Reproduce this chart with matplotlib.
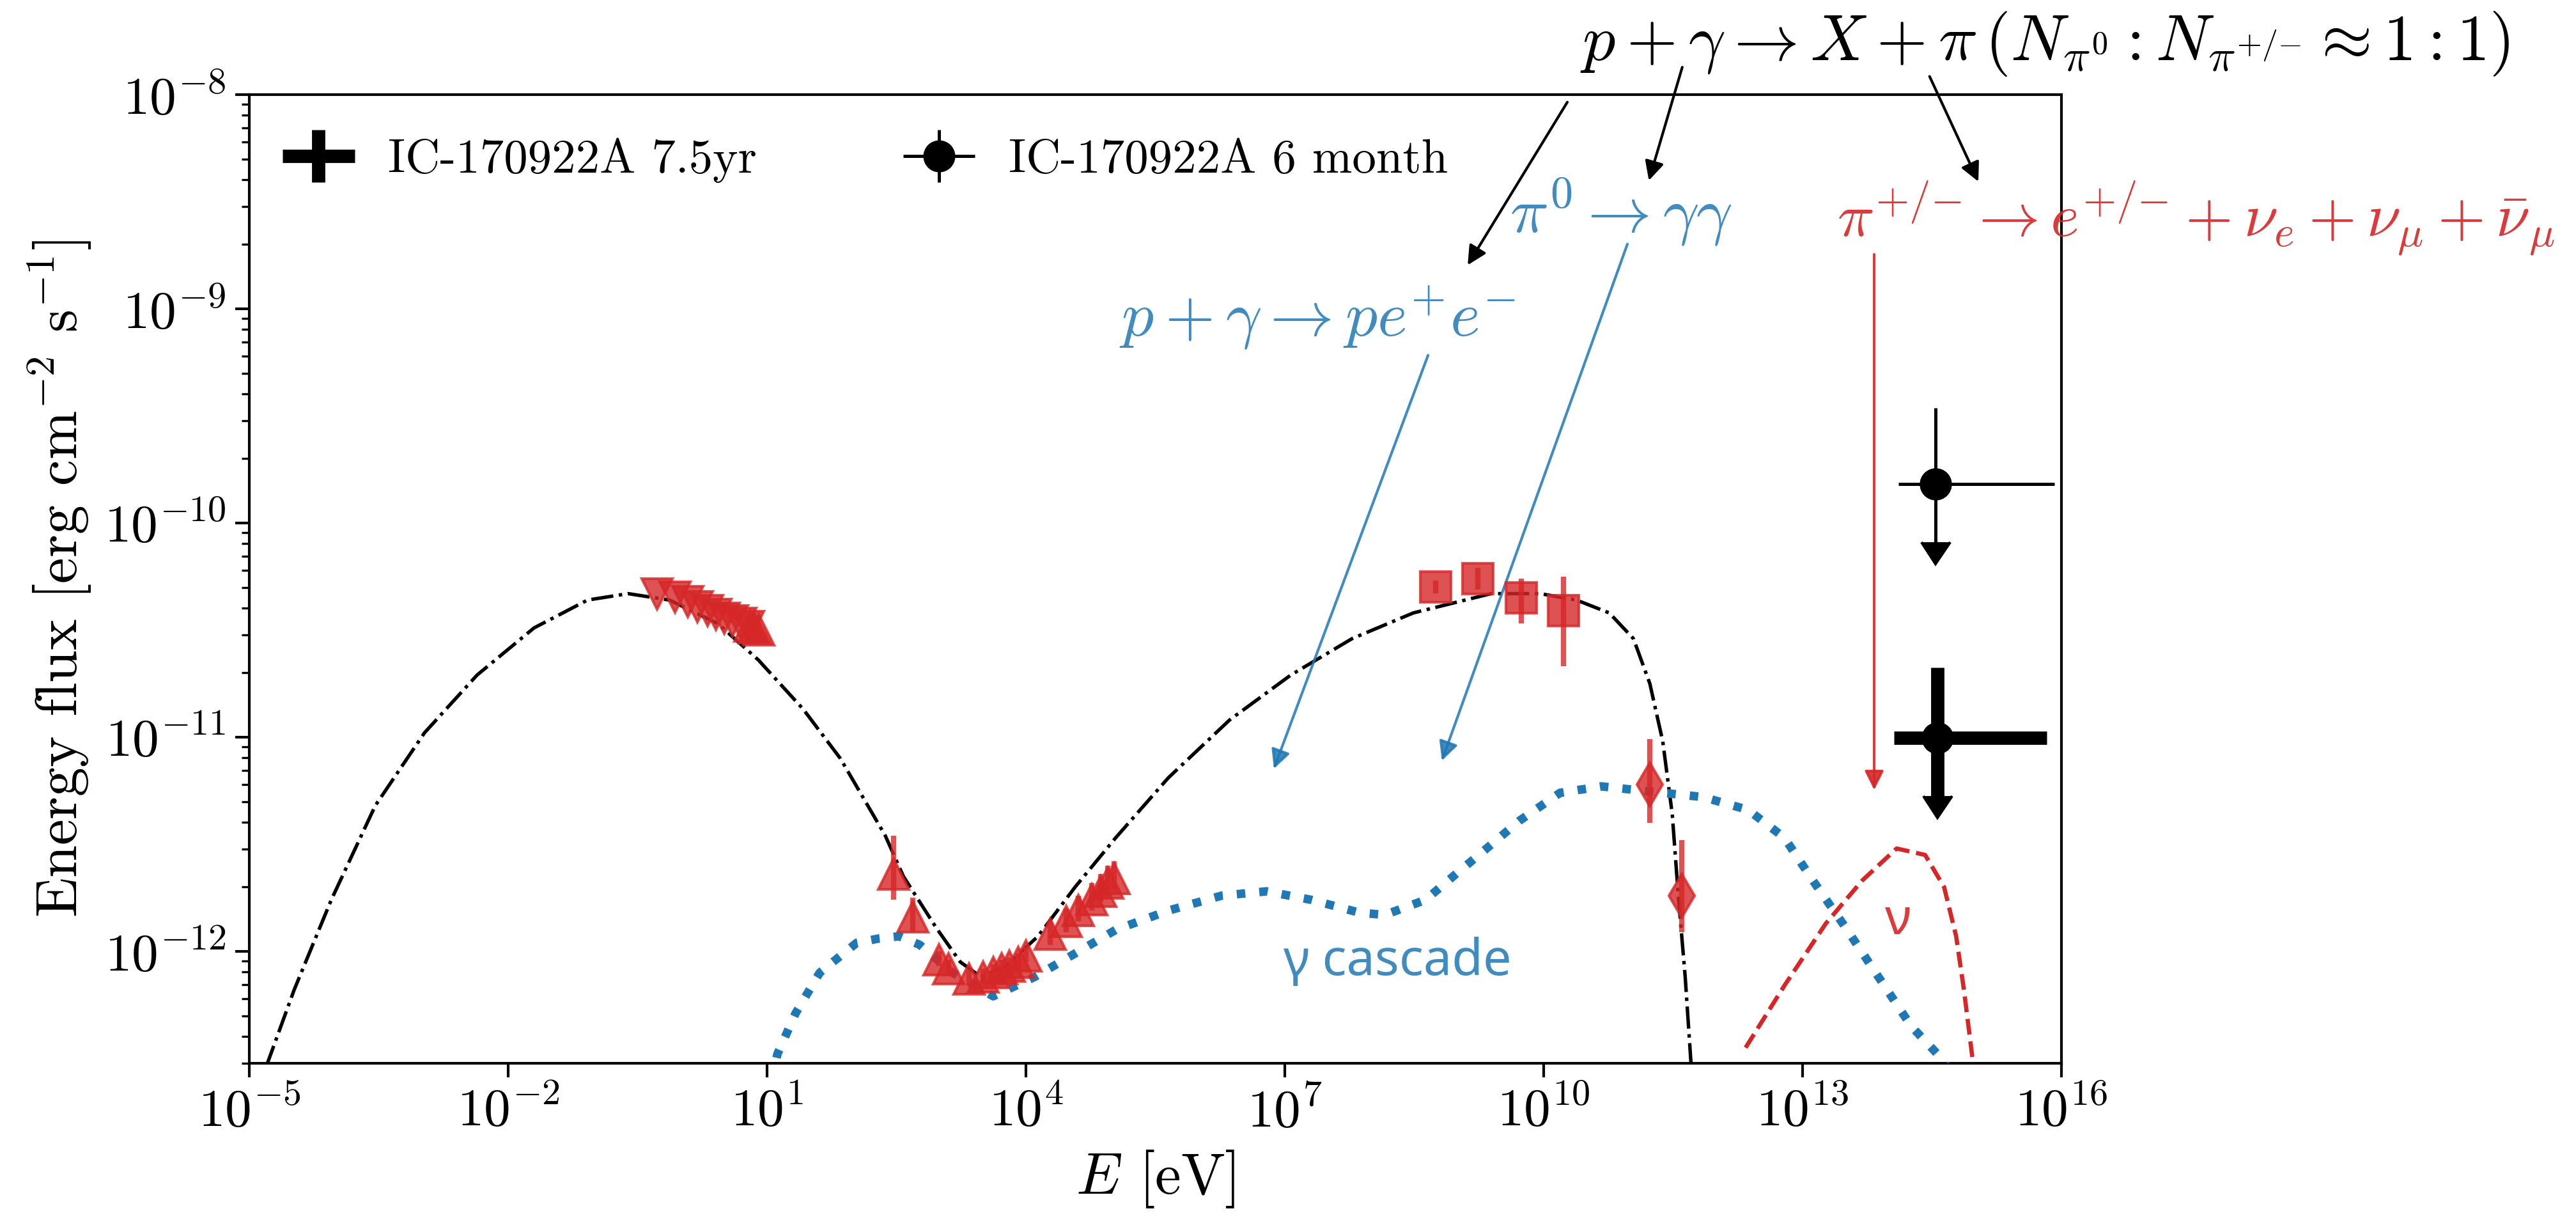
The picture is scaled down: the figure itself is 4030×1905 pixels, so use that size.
import numpy as np
import matplotlib
matplotlib.use('Agg')
import matplotlib.pyplot as plt
from matplotlib.ticker import NullLocator
from matplotlib.container import ErrorbarContainer
from matplotlib.legend_handler import HandlerErrorbar

plt.rcParams['font.family'] = 'serif'
plt.rcParams['font.serif'] = ['cmr10']
plt.rcParams['mathtext.fontset'] = 'cm'
plt.rcParams['axes.formatter.use_mathtext'] = True
plt.rcParams['axes.unicode_minus'] = False

# --- model curves (log10 E [eV], log10 flux) ---
model_logE = [-4.95, -4.48, -4.05, -3.54, -2.97, -2.36, -1.70, -1.08, -0.61, -0.13,
              0.43, 0.90, 1.42, 1.85, 2.37, 2.58, 2.96, 3.24, 3.48, 3.76, 4.14, 4.57,
              5.04, 5.65, 6.36, 7.07, 7.78, 8.49, 9.39, 9.96, 10.38, 10.76, 11.04,
              11.23, 11.38, 11.49, 11.56, 11.64, 11.72]
model_logF = [-12.70, -12.18, -11.76, -11.32, -10.98, -10.71, -10.49, -10.36, -10.33, -10.36,
              -10.47, -10.64, -10.87, -11.10, -11.46, -11.65, -11.89, -12.05, -12.12, -12.07,
              -11.93, -11.70, -11.47, -11.19, -10.92, -10.71, -10.54, -10.42, -10.33, -10.33,
              -10.36, -10.42, -10.54, -10.75, -11.02, -11.36, -11.74, -12.12, -12.60]

cascade_logE = [1.05, 1.12, 1.33, 1.61, 2.04, 2.30, 2.53, 2.77, 3.15, 3.62, 4.10, 4.57,
                5.04, 5.65, 6.27, 6.79, 7.31, 7.87, 8.16, 8.63, 9.01, 9.25, 9.72, 10.19,
                10.67, 11.14, 11.85, 12.37, 12.79, 13.12, 13.50, 13.88, 14.26, 14.61, 14.75]
cascade_logF = [-12.60, -12.48, -12.29, -12.10, -11.96, -11.94, -11.93, -11.97, -12.10, -12.21,
                -12.12, -12.01, -11.90, -11.81, -11.74, -11.72, -11.76, -11.82, -11.83, -11.76,
                -11.63, -11.55, -11.39, -11.26, -11.23, -11.25, -11.28, -11.34, -11.47, -11.67,
                -11.89, -12.12, -12.35, -12.50, -12.60]

nu_logE = [12.34, 12.79, 13.27, 13.69, 14.09, 14.42, 14.64, 14.78, 14.87, 15.00]
nu_logF = [-12.45, -12.16, -11.87, -11.67, -11.52, -11.55, -11.70, -11.93, -12.18, -12.60]

# --- photon data ---
opt_logE = [-0.275, -0.064, 0.079, 0.196, 0.314, 0.409, 0.504, 0.598, 0.693, 0.788]
opt_logF = [-10.333, -10.348, -10.367, -10.390, -10.409, -10.428, -10.444, -10.457, -10.470, -10.485]

uv_logE = [0.80, 0.85, 0.90]
uv_logF = [-10.48, -10.49, -10.50]

xray_logE = [2.47, 2.69, 2.99, 3.10, 3.34, 3.50, 3.62, 3.72, 3.81, 3.91, 4.00,
             4.28, 4.47, 4.61, 4.76, 4.87, 4.95, 5.02]
xray_logF = [-11.64, -11.84, -12.04, -12.08, -12.13, -12.12, -12.10, -12.08, -12.07, -12.05, -12.02,
             -11.92, -11.86, -11.81, -11.76, -11.72, -11.68, -11.66]
xray_lo = [-11.76, -11.91, -12.07, -12.11, -12.16, -12.15, -12.13, -12.11, -12.10, -12.08, -12.05,
           -11.97, -11.91, -11.86, -11.81, -11.77, -11.73, -11.71]
xray_hi = [-11.46, -11.75, -12.00, -12.04, -12.09, -12.08, -12.06, -12.04, -12.03, -12.01, -11.98,
           -11.86, -11.80, -11.74, -11.68, -11.64, -11.60, -11.58]

fermi_logE = [8.75, 9.24, 9.74, 10.23]
fermi_logF = [-10.30, -10.26, -10.35, -10.41]
fermi_lo = [-10.33, -10.31, -10.47, -10.67]
fermi_hi = [-10.27, -10.21, -10.26, -10.25]

magic_logE = [11.23, 11.60]
magic_logF = [-11.22, -11.74]
magic_lo = [-11.40, -11.91]
magic_hi = [-11.01, -11.48]

# --- IceCube neutrino points: centre, x range, top of bar, base of arrow ---
ic_labels = ['IC-170922A 7.5yr', 'IC-170922A 6 month']
ic_logE = [14.56, 14.54]
ic_logF = [-11.003, -9.819]
ic_xlo = [14.06, 14.11]
ic_xhi = [15.83, 15.92]
ic_top = [-10.675, -9.464]
ic_arrow = [-11.275, -10.09]
ic_lw = [5.0, 1.2]


def p10(v):
    return 10.0 ** np.asarray(v, dtype=float)


def yerr_from(logF, lo, hi):
    F = p10(logF)
    return [F - p10(lo), p10(hi) - F]


fig = plt.figure(figsize=(4030 / 300., 1905 / 300.), dpi=300)
ax = fig.add_axes([390 / 4030., 242 / 1905., 2835 / 4030., 1515 / 1905.])
ax.set_xscale('log')
ax.set_yscale('log')

ax.plot(p10(model_logE), p10(model_logF), 'k-.', lw=1.3, zorder=3)
ax.plot(p10(cascade_logE), p10(cascade_logF), ':', color='tab:blue', lw=3.2, zorder=3)
ax.plot(p10(nu_logE), p10(nu_logF), '--', color='tab:red', lw=1.6, zorder=3)

red = dict(color='tab:red', alpha=0.8, ms=11.5, elinewidth=2, zorder=4)
ax.errorbar(p10(opt_logE), p10(opt_logF), fmt='v', **red)
ax.errorbar(p10(uv_logE), p10(uv_logF), fmt='^', **red)
ax.errorbar(p10(xray_logE), p10(xray_logF), yerr=yerr_from(xray_logF, xray_lo, xray_hi), fmt='^', **red)
ax.errorbar(p10(fermi_logE), p10(fermi_logF), yerr=yerr_from(fermi_logF, fermi_lo, fermi_hi), fmt='s', **red)
ax.errorbar(p10(magic_logE), p10(magic_logF), yerr=yerr_from(magic_logF, magic_lo, magic_hi), fmt='d', **red)

for i in range(2):
    x = p10([ic_logE[i]])
    y = p10([ic_logF[i]])
    xerr = [x - p10([ic_xlo[i]]), p10([ic_xhi[i]]) - x]
    yup = [[0.0], p10([ic_top[i]]) - y]
    ydown = y - p10([ic_arrow[i]])
    if i == 0:
        ax.errorbar(x, y, xerr=xerr, yerr=yup, fmt='none', ecolor='k', elinewidth=ic_lw[i],
                    label=ic_labels[i], zorder=5)
    else:
        ax.errorbar(x, y, xerr=xerr, yerr=yup, fmt='o', color='k', ms=11, elinewidth=ic_lw[i],
                    label=ic_labels[i], zorder=5)
    ax.errorbar(x, y, yerr=ydown, uplims=True, fmt='o', color='k', ms=11, elinewidth=ic_lw[i],
                capsize=5.4, zorder=5)

ax.set_xlim(1e-5, 1e16)
ax.set_ylim(3e-13, 1e-8)
ax.set_xticks([10.0 ** k for k in range(-5, 17, 3)])
ax.xaxis.set_minor_locator(NullLocator())
ax.tick_params(which='major', length=5.3, width=1.0, labelsize=20)
ax.tick_params(which='minor', length=3.0, width=0.8)
for s in ax.spines.values():
    s.set_linewidth(1.0)

ax.set_xlabel(r'$E$ [eV]', fontsize=22)
ax.set_ylabel(r'Energy flux [erg cm$^{-2}$ s$^{-1}$]', fontsize=22)

ax.legend(loc='upper left', bbox_to_anchor=(-0.012, 1.0), ncol=2, frameon=False, fontsize=18,
          handletextpad=0.45, columnspacing=2.8,
          handler_map={ErrorbarContainer: HandlerErrorbar(xerr_size=0.75, yerr_size=0.55)})

# --- annotations ---
blue = dict(color='tab:blue', alpha=0.85)
redc = dict(color='tab:red', alpha=0.9)
ax.text(10 ** 10.42, 10 ** -7.84,
        r'$p + \gamma \rightarrow X + \pi\,(N_{\pi^0} : N_{\pi^{+/{-}}} \approx 1:1)$',
        fontsize=24.5, ha='left', va='baseline', color='k')
ax.text(10 ** 5.08, 10 ** -9.128, r'$p + \gamma \rightarrow p e^{+} e^{-}$',
        fontsize=24, ha='left', va='baseline', **blue)
ax.text(10 ** 9.61, 10 ** -8.646, r'$\pi^{0} \rightarrow \gamma\gamma$',
        fontsize=24, ha='left', va='baseline', **blue)
ax.text(10 ** 13.40, 10 ** -8.663,
        r'$\pi^{+/{-}} \rightarrow e^{+/{-}} + \nu_{e} + \nu_{\mu} + \bar{\nu}_{\mu}$',
        fontsize=23, ha='left', va='baseline', **redc)
ax.text(10 ** 6.98, 10 ** -12.11, 'γ cascade', family=['Noto Sans', 'DejaVu Sans'],
        fontsize=19, ha='left', va='baseline', **blue)
ax.text(10 ** 14.11, 10 ** -11.86, 'ν', family=['Noto Sans', 'DejaVu Sans'],
        fontsize=19, ha='center', va='center', **redc)

# arrows: (start logE, start logF, tip logE, tip logF)
arrows_black = [(10.274, -8.035, 9.119, -8.796), (11.606, -7.872, 11.219, -8.401),
                (14.472, -7.915, 15.037, -8.406)]
arrows_blue = [(8.66, -9.217, 6.873, -11.148), (10.97, -8.698, 8.82, -11.11)]
arrows_red = [(13.83, -8.746, 13.83, -11.247)]

for group, col in [(arrows_black, dict(color='k')), (arrows_blue, blue), (arrows_red, redc)]:
    for (x0, y0, x1, y1) in group:
        ax.annotate('', xy=(10 ** x1, 10 ** y1), xytext=(10 ** x0, 10 ** y0),
                    arrowprops=dict(arrowstyle='-|>', lw=1.0, mutation_scale=15,
                                    shrinkA=0, shrinkB=0, **col),
                    annotation_clip=False)

plt.savefig('out.png', dpi=300)
